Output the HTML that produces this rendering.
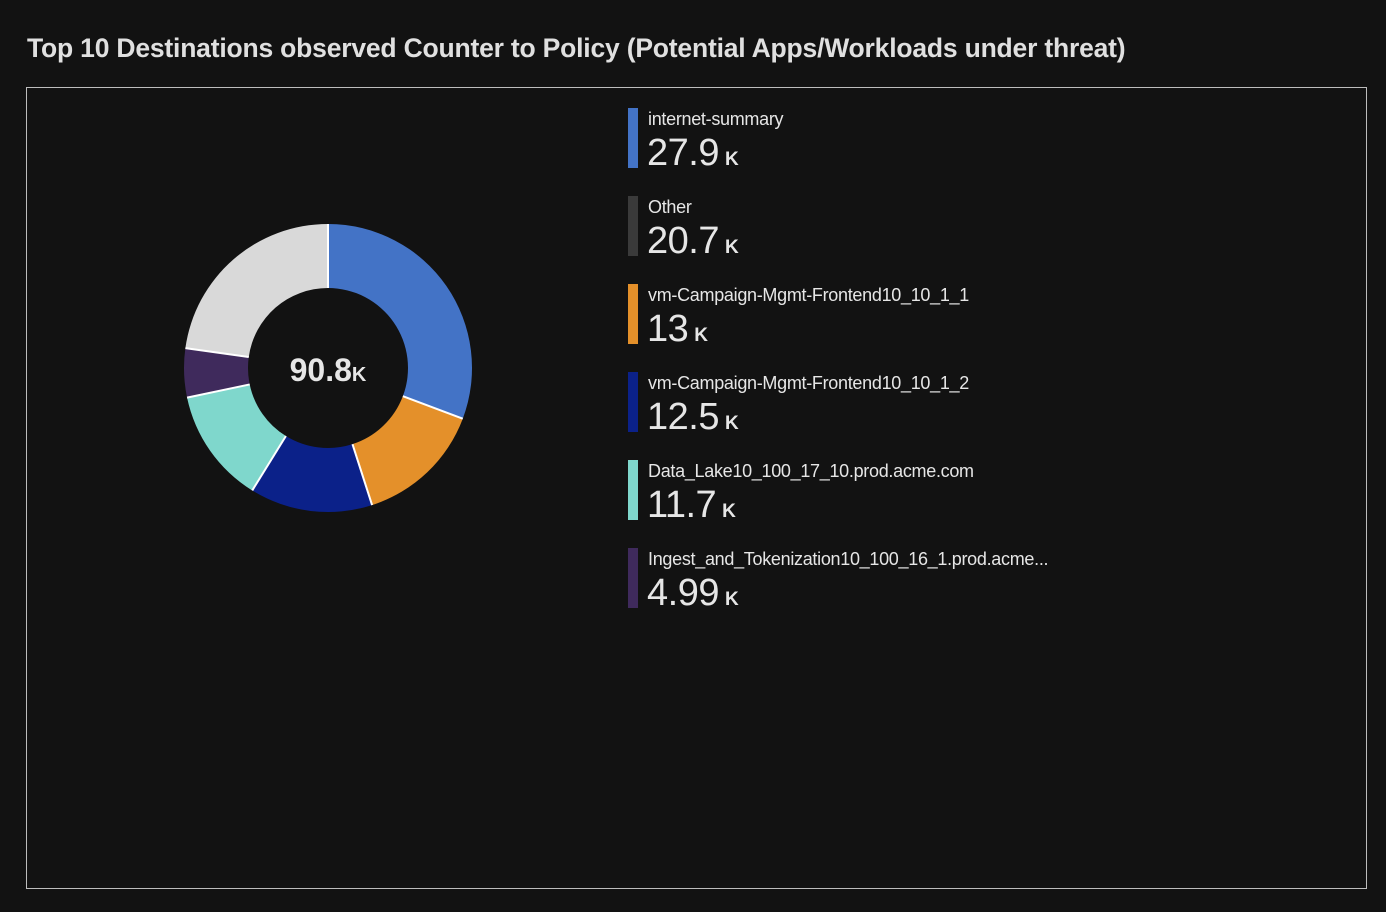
<!DOCTYPE html>
<html><head><meta charset="utf-8"><style>
body{margin:0;background:#121212;width:1386px;height:912px;overflow:hidden;font-family:"Liberation Sans",sans-serif;color:#e6e6e6}
#title{position:absolute;left:27px;top:33px;font-size:26.5px;font-weight:bold;letter-spacing:-0.2px;color:#e0e0e0}
#frame{position:absolute;left:26px;top:87px;width:1339px;height:800px;border:1.5px solid #bdbdbd}
.leg{position:absolute;left:628px;height:60px}
.leg .bar{position:absolute;left:0;top:0;width:10px;height:60px}
.leg .lab{position:absolute;left:20px;top:1px;font-size:18px;white-space:nowrap;letter-spacing:-0.3px}
.leg .val{position:absolute;left:19px;top:24px;font-size:38px;white-space:nowrap;letter-spacing:-0.5px}
.leg .val span{font-size:19px;font-weight:bold;margin-left:6px}
</style></head><body>
<div id="title">Top 10 Destinations observed Counter to Policy (Potential Apps/Workloads under threat)</div>
<div id="frame"></div>
<svg id="donut" width="1386" height="912" style="position:absolute;left:0;top:0">
<text x="328" y="381" text-anchor="middle" fill="#e6e6e6" font-size="32" font-weight="bold" font-family="Liberation Sans">90.8<tspan font-size="20" font-weight="bold">K</tspan></text>
</svg>
<div id="legend"></div>
<script>
const labels=["internet-summary","Other","vm-Campaign-Mgmt-Frontend10_10_1_1","vm-Campaign-Mgmt-Frontend10_10_1_2","Data_Lake10_100_17_10.prod.acme.com","Ingest_and_Tokenization10_100_16_1.prod.acme..."];
const values=[27.9,20.7,13,12.5,11.7,4.99];
const valueText=["27.9","20.7","13","12.5","11.7","4.99"];
const legendColors=["#4373c6","#3a3a3a","#e4902a","#0b2189","#7fd7cc","#3f2a5c"];
const donutColors=["#4373c6","#d9d9d9","#e4902a","#0b2189","#7fd7cc","#3f2a5c"];
const donutOrder=[0,2,3,4,5,1];
const NS="http://www.w3.org/2000/svg";
const svg=document.getElementById('donut');
const cx=328,cy=368,R=144,r=80;
const total=values.reduce((a,b)=>a+b,0);
function pt(a,rad){return [cx+rad*Math.sin(a),cy-rad*Math.cos(a)];}
let ang=0;const seps=[];
donutOrder.forEach(i=>{
  const a0=ang,a1=ang+values[i]/total*2*Math.PI;ang=a1;seps.push(a0);
  const large=(a1-a0)>Math.PI?1:0;
  const p0=pt(a0,R),p1=pt(a1,R),q1=pt(a1,r),q0=pt(a0,r);
  const p=document.createElementNS(NS,'path');
  p.setAttribute('d',`M${p0} A${R},${R} 0 ${large} 1 ${p1} L${q1} A${r},${r} 0 ${large} 0 ${q0} Z`);
  p.setAttribute('fill',donutColors[i]);
  
  
  svg.insertBefore(p,svg.firstChild);
});
seps.forEach(a=>{
  const s=document.createElementNS(NS,'line');
  const o=pt(a,R),n=pt(a,r);
  s.setAttribute('x1',o[0]);s.setAttribute('y1',o[1]);s.setAttribute('x2',n[0]);s.setAttribute('y2',n[1]);
  s.setAttribute('stroke','#ffffff');s.setAttribute('stroke-width','2');
  
  
  svg.insertBefore(s,svg.lastElementChild);
});
const leg=document.getElementById('legend');
labels.forEach((l,i)=>{
  const d=document.createElement('div');d.className='leg';d.style.top=(108+i*88)+'px';
  
  
  d.innerHTML=`<div class="bar" style="background:${legendColors[i]}"></div><div class="lab">${l}</div><div class="val">${valueText[i]}<span>K</span></div>`;
  leg.appendChild(d);
});
</script>
</body></html>
